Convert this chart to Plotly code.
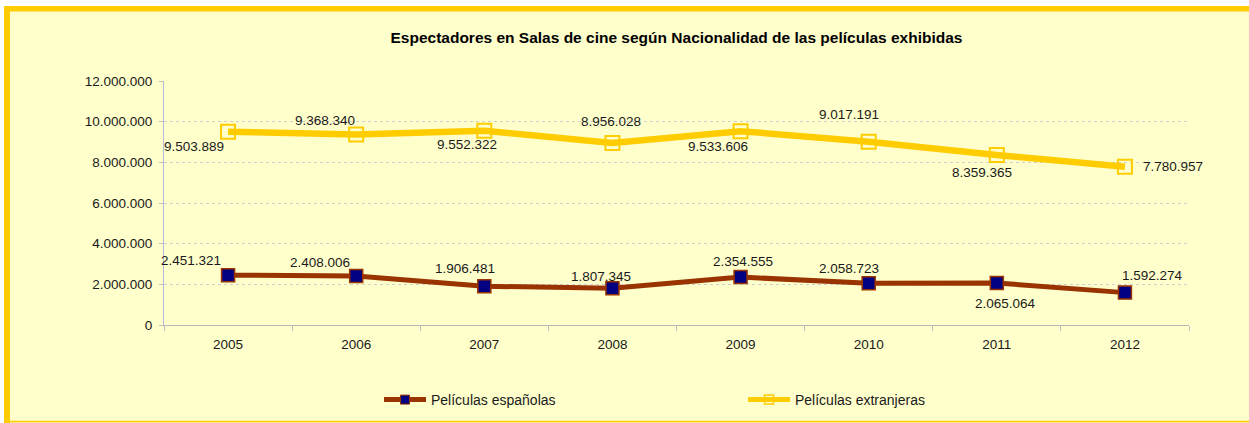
import plotly.graph_objects as go

years = ["2005", "2006", "2007", "2008", "2009", "2010", "2011", "2012"]
espanolas = [2451321, 2408006, 1906481, 1807345, 2354555, 2058723, 2065064, 1592274]
extranjeras = [9503889, 9368340, 9552322, 8956028, 9533606, 9017191, 8359365, 7780957]
series_names = ["Películas españolas", "Películas extranjeras"]
title_text = "Espectadores en Salas de cine según Nacionalidad de las películas exhibidas"
y_ticks = [0, 2000000, 4000000, 6000000, 8000000, 10000000, 12000000]

# label offsets (pixels, dx, dy with dy positive = up)
off_esp = [(-37, 15), (-36, 14), (-19, 18), (-11, 12), (2, 16), (-20, 15), (9, -20), (28, 17)]
off_ext = [(-34, -15), (-31, 14), (-17, -14), (-1, 21), (-23, -15), (-20, 27), (-15, -17), (48, 0)]

W, H = 1249, 423
L, R, T, B = 164, 1189, 81, 325
FONT = "Liberation Sans, Arial, sans-serif"
ESP_LINE, ESP_FILL, EXT = "#993300", "#000080", "#FFCC00"


def px(x):
    return (x - L) / (R - L)


def py(y):
    return (B - y) / (B - T)


def fmt(v):
    return f"{v:,}".replace(",", ".")


fig = go.Figure()
fig.add_trace(go.Scatter(
    x=years, y=espanolas, name=series_names[0], mode="lines+markers", showlegend=False,
    line=dict(color=ESP_LINE, width=5),
    marker=dict(symbol="square", size=13, color=ESP_FILL, line=dict(color=ESP_LINE, width=1.5)),
))
fig.add_trace(go.Scatter(
    x=years, y=extranjeras, name=series_names[1], mode="lines+markers", showlegend=False,
    line=dict(color=EXT, width=6.5),
    marker=dict(symbol="square-open", size=14, color=EXT, line=dict(color=EXT, width=2)),
))
# legend entries (smaller legend symbols as in the reference)
fig.add_trace(go.Scatter(
    x=[None], y=[None], name=series_names[0], mode="lines+markers",
    line=dict(color=ESP_LINE, width=5),
    marker=dict(symbol="square", size=9, color=ESP_FILL, line=dict(color=ESP_LINE, width=1)),
))
fig.add_trace(go.Scatter(
    x=[None], y=[None], name=series_names[1], mode="lines+markers",
    line=dict(color=EXT, width=5),
    marker=dict(symbol="square-open", size=9, color=EXT, line=dict(color=EXT, width=1.5)),
))

for vals, offs in ((espanolas, off_esp), (extranjeras, off_ext)):
    for i, (v, (dx, dy)) in enumerate(zip(vals, offs)):
        fig.add_annotation(x=i, y=v, xref="x", yref="y", text=fmt(v), showarrow=False,
                           xshift=dx, yshift=dy,
                           font=dict(family=FONT, size=13.5, color="#1a1a1a"))

shapes = [
    dict(type="rect", xref="paper", yref="paper", x0=px(7), x1=px(W + 5), y0=py(8), y1=py(422),
         fillcolor="#FFFFCC", line=dict(width=0), layer="below"),
    dict(type="rect", xref="paper", yref="paper", x0=px(4), x1=px(W + 5), y0=py(6), y1=py(11.5),
         fillcolor=EXT, line=dict(width=0), layer="below"),
    dict(type="rect", xref="paper", yref="paper", x0=px(4), x1=px(10), y0=py(6), y1=py(H + 5),
         fillcolor=EXT, line=dict(width=0), layer="below"),
    dict(type="rect", xref="paper", yref="paper", x0=px(4), x1=px(W + 5), y0=py(420.8), y1=py(422.6),
         fillcolor=EXT, line=dict(width=0), layer="below"),
]

fig.update_layout(
    width=W, height=H,
    margin=dict(l=L, r=W - R, t=T, b=H - B, pad=0, autoexpand=False),
    paper_bgcolor="white", plot_bgcolor="rgba(0,0,0,0)",
    separators=",.",
    font=dict(family=FONT, size=13, color="#1a1a1a"),
    title=dict(text=title_text, x=0.5, xref="paper", xanchor="center",
               y=1 - 38 / H, yref="container", yanchor="middle",
               font=dict(family=FONT, size=15.5, color="#000000", weight="bold")),
    showlegend=True,
    legend=dict(orientation="h", x=px(379), y=py(400), xanchor="left", yanchor="middle",
                bgcolor="rgba(0,0,0,0)", itemwidth=42, entrywidth=307, entrywidthmode="pixels",
                font=dict(family=FONT, size=14, color="#1a1a1a")),
    shapes=shapes,
)
fig.update_xaxes(type="category", showline=True, linecolor="#b8b8b8", linewidth=1,
                 ticks="outside", tickson="boundaries", ticklen=5, tickcolor="#c0c0c0",
                 showgrid=False, tickfont=dict(family=FONT, size=13.5, color="#1a1a1a"),
                 range=[-0.5, 7.5], zeroline=False, ticklabelstandoff=7, automargin=False)
fig.update_yaxes(range=[0, 12000000], tickvals=y_ticks, tickformat=",d",
                 showline=True, linecolor="#b8b8dc", linewidth=1,
                 ticks="outside", ticklen=4, tickcolor="#c0c0c0",
                 showgrid=True, gridcolor="#cfcfcf", griddash="dot", gridwidth=1,
                 zeroline=False, ticklabelstandoff=4, automargin=False,
                 tickfont=dict(family=FONT, size=13.5, color="#1a1a1a"))

fig.write_html("out.html", config={"displayModeBar": False},
               post_script="document.body.style.margin='0';document.body.style.overflow='hidden';")
